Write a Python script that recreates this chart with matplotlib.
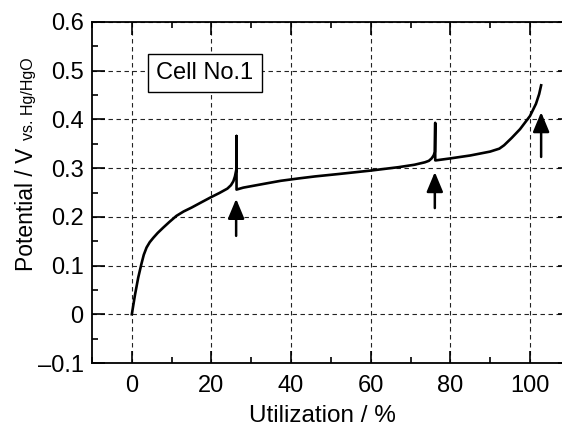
import matplotlib
matplotlib.use("Agg")
from matplotlib import pyplot as plt
from matplotlib.ticker import MultipleLocator, FixedLocator, FixedFormatter

plt.rcParams["font.family"] = ["Liberation Sans", "DejaVu Sans"]

# discharge curve (x = utilization %, y = potential V)
utilization = [
    0, 0.8, 1.6, 2.4, 3.0, 3.7, 4.5, 5.4, 6.5, 7.9, 9.5, 11.2, 13.0, 15.0,
    17.5, 19.8, 22.0, 24.0, 24.9, 25.5, 25.9, 26.2, 26.3, 26.3, 26.3,
    28.0, 30.0, 34.0, 37.4, 42.0, 46.0, 52.0, 60.0, 67.0, 71.0, 73.6,
    74.6, 75.3, 75.8, 76.1, 76.2, 76.2, 76.4,
    80.0, 85.0, 90.0, 92.3, 93.5, 95.4, 97.5, 100.0, 101.5, 102.3, 102.8,
]
potential = [
    0.0, 0.04, 0.075, 0.103, 0.122, 0.137, 0.148, 0.157, 0.167, 0.178, 0.190, 0.202, 0.211, 0.219,
    0.230, 0.240, 0.249, 0.258, 0.265, 0.273, 0.283, 0.295, 0.30, 0.366, 0.256,
    0.260, 0.263, 0.269, 0.274, 0.279, 0.283, 0.288, 0.295, 0.302, 0.307, 0.312,
    0.315, 0.320, 0.326, 0.333, 0.393, 0.316, 0.316,
    0.320, 0.326, 0.334, 0.340, 0.347, 0.362, 0.380, 0.407, 0.432, 0.452, 0.470,
]

# arrows pointing at the transition points
arrow_x = [26.2, 76.1, 102.8]
arrow_tip = [0.237, 0.292, 0.415]
arrow_tail = [0.161, 0.218, 0.323]

y_ticks = [-0.1, 0, 0.1, 0.2, 0.3, 0.4, 0.5, 0.6]
y_tick_labels = ["\u20130.1", "0", "0.1", "0.2", "0.3", "0.4", "0.5", "0.6"]
x_ticks = [0, 20, 40, 60, 80, 100]

fig = plt.figure(figsize=(5.62, 4.28), dpi=100)
ax = fig.add_axes([92 / 562, 65 / 428, 477.8 / 562, 341 / 428])

ax.plot(utilization, potential, color="black", lw=1.9, solid_joinstyle="round", zorder=3)

for x, tip, tail in zip(arrow_x, arrow_tip, arrow_tail):
    ax.annotate("", xy=(x, tip), xytext=(x, tail),
                arrowprops=dict(arrowstyle="-|>,head_length=0.6,head_width=0.25",
                                mutation_scale=20, color="black", lw=1.8,
                                shrinkA=0, shrinkB=0))

ax.text(18.3, 0.495, "Cell No.1", ha="center", va="center", fontsize=17,
        bbox=dict(boxstyle="square,pad=0.35", fc="white", ec="black", lw=1))

ax.set_xlim(-10, 110)
ax.set_ylim(-0.1, 0.6)
ax.xaxis.set_major_locator(FixedLocator(x_ticks))
ax.xaxis.set_minor_locator(MultipleLocator(10))
ax.yaxis.set_major_locator(FixedLocator(y_ticks))
ax.yaxis.set_major_formatter(FixedFormatter(y_tick_labels))
ax.yaxis.set_minor_locator(MultipleLocator(0.05))

ax.tick_params(which="both", direction="in", top=True, right=True, width=1.2, labelsize=17)
ax.tick_params(which="major", length=9)
ax.tick_params(which="minor", length=4)
ax.tick_params(axis="x", pad=9)
ax.tick_params(axis="y", pad=6)
for s in ax.spines.values():
    s.set_linewidth(1.3)

ax.grid(True, which="major", color="#222222", lw=0.8, linestyle=(0, (4, 3.2)))

ax.set_xlabel("Utilization / %", fontsize=17.5)
ax.xaxis.set_label_coords((322 - 92) / 477.8, -42 / 341)

fig.text(33 / 562, 1 - 271 / 428, "Potential / V", rotation=90, rotation_mode="anchor",
         ha="left", va="baseline", fontsize=16.5)
fig.text(33 / 562, 1 - 140 / 428, "vs. Hg/HgO", rotation=90, rotation_mode="anchor",
         ha="left", va="baseline", fontsize=11.5)

fig.savefig("out.png", dpi=100)
